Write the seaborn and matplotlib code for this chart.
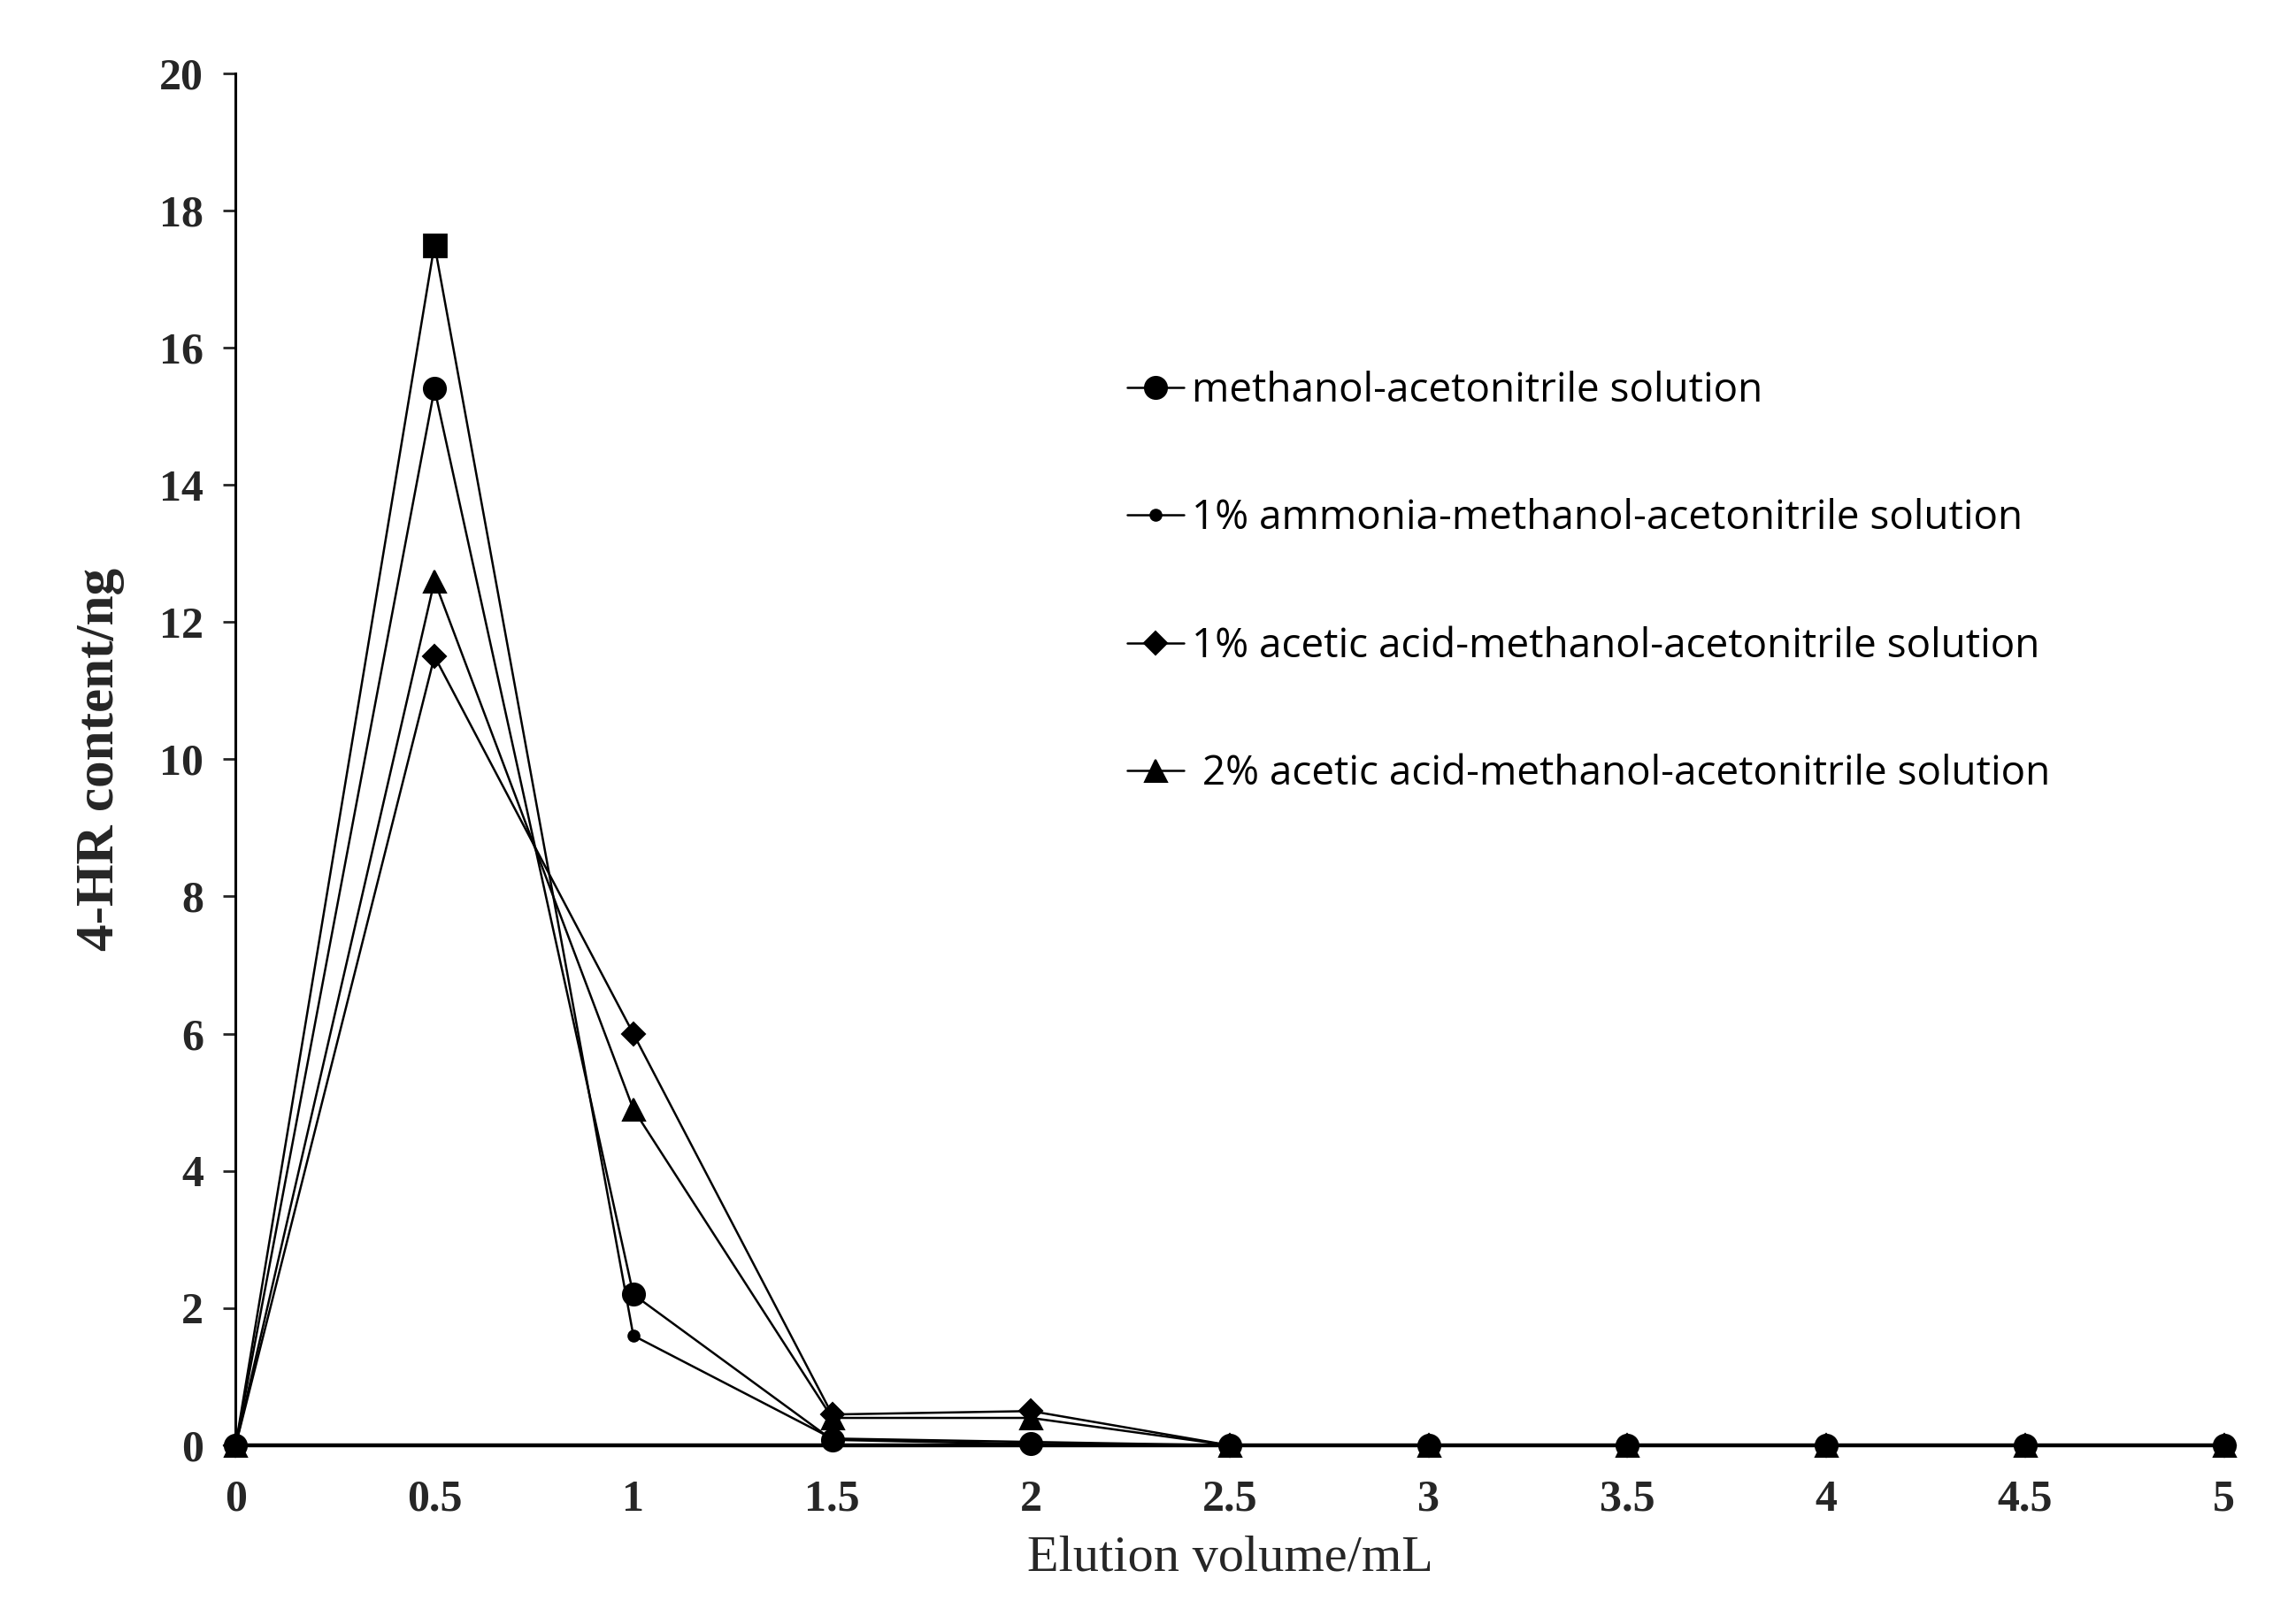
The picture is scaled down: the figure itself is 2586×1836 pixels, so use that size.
import numpy as np
import pandas as pd
import matplotlib.pyplot as plt
import seaborn as sns

volume = [0, 0.5, 1, 1.5, 2, 2.5, 3, 3.5, 4, 4.5, 5]
methanol = [0, 15.4, 2.2, 0.08, 0.02, 0, 0, 0, 0, 0, 0]
ammonia = [0, 17.5, 1.6, 0.1, 0.05, 0, 0, 0, 0, 0, 0]
acetic1 = [0, 11.5, 6.0, 0.45, 0.5, 0, 0, 0, 0, 0, 0]
acetic2 = [0, 12.6, 4.9, 0.4, 0.4, 0, 0, 0, 0, 0, 0]

labels = ['methanol-acetonitrile solution',
          '1% ammonia-methanol-acetonitrile solution',
          '1% acetic acid-methanol-acetonitrile solution',
          ' 2% acetic acid-methanol-acetonitrile solution']

sns.set_style("ticks")
plt.rcParams['font.family'] = ['Liberation Serif', 'DejaVu Serif']

fig = plt.figure(figsize=(12.93, 9.18), dpi=200)
ax = fig.add_axes([0.103, 0.110, 0.869, 0.845])

series = [(methanol, 'o', 9), (ammonia, 'o', 4.5), (acetic1, 'D', 6.5), (acetic2, '^', 9)]
for (vals, mk, ms), lab in zip(series, labels):
    df = pd.DataFrame({'x': volume, 'y': vals})
    sns.lineplot(data=df, x='x', y='y', ax=ax, color='black', lw=0.9,
                 marker=mk, markersize=ms, markeredgecolor='black', label=lab,
                 clip_on=False, zorder=3)
# the ammonia peak is drawn with a square marker in the original
ax.plot(volume[1], ammonia[1], 's', color='black', ms=9, zorder=4)

ax.set_xlim(0, 5)
ax.set_ylim(0, 20)
ax.set_xticks(volume)
ax.set_xticklabels(['0', '0.5', '1', '1.5', '2', '2.5', '3', '3.5', '4', '4.5', '5'])
ax.set_yticks(range(0, 21, 2))
for lbl in ax.get_xticklabels() + ax.get_yticklabels():
    lbl.set_fontweight('bold')
    lbl.set_fontsize(18)
ax.tick_params(axis='y', direction='out', length=5, width=1, pad=8)
ax.tick_params(axis='x', length=0, pad=14)
for s in ['top', 'right']:
    ax.spines[s].set_visible(False)
for s in ['left', 'bottom']:
    ax.spines[s].set_linewidth(1.1)
    ax.spines[s].set_color('black')
ax.spines['bottom'].set_linewidth(1.6)

ax.set_xlabel('Elution volume/mL', fontsize=21, labelpad=6)
ax.set_ylabel('4-HR content/ng', fontsize=22, fontweight='bold', labelpad=14)

leg = ax.legend(loc='upper left', bbox_to_anchor=(0.43, 0.81), frameon=False,
                prop={'family': 'Open Sans', 'size': 16.5}, labelspacing=2.15,
                handlelength=1.4, handletextpad=0.2)
for t in leg.get_texts():
    t.set_color('black')

fig.savefig('out.png', dpi=200, facecolor='white')
